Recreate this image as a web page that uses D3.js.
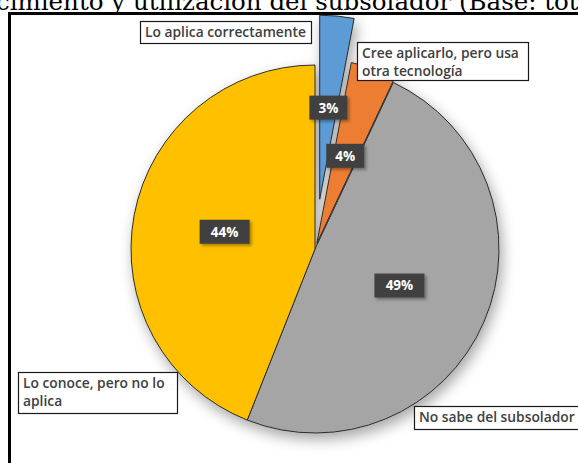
<!DOCTYPE html>
<html>
<head>
<meta charset="utf-8">
<script src="https://cdn.jsdelivr.net/npm/d3@7/dist/d3.min.js"></script>
<style>
  body { margin: 0; background: #fff; }
  svg { display: block; }
</style>
</head>
<body>
<div id="chart"></div>
<script>
// data
const categories = ["Lo aplica correctamente", "Cree aplicarlo, pero usa otra tecnología", "No sabe del subsolador", "Lo conoce, pero no lo aplica"];
const values = [3, 4, 49, 44];
const pctLabels = ["3%", "4%", "49%", "44%"];
const calloutLines = [["Lo aplica correctamente"], ["Cree aplicarlo, pero usa", "otra tecnología"], ["No sabe del subsolador"], ["Lo conoce, pero no lo", "aplica"]];

// styling
const colors = ["#5B9BD5", "#ED7D31", "#A5A5A5", "#FFC000"];
const explode = [50, 6, 0, 0];
// callout boxes: x, y, width, height
const calloutBoxes = [[140, 21, 171, 22], [357, 42, 171, 38], [414, 406, 170, 23], [18, 372, 159, 41]];

const width = 578, height = 463;
const cx = 315, cy = 249, radius = 184;

const svg = d3.select("#chart").append("svg")
  .attr("width", width)
  .attr("height", height);

const defs = svg.append("defs");
const shadow = defs.append("filter").attr("id", "pieShadow")
  .attr("x", "-20%").attr("y", "-20%").attr("width", "140%").attr("height", "140%");
shadow.append("feDropShadow")
  .attr("dx", 3).attr("dy", 6).attr("stdDeviation", 7)
  .attr("flood-color", "#000").attr("flood-opacity", 0.35);
const boxShadow = defs.append("filter").attr("id", "boxShadow")
  .attr("x", "-30%").attr("y", "-30%").attr("width", "160%").attr("height", "160%");
boxShadow.append("feDropShadow")
  .attr("dx", 2).attr("dy", 2).attr("stdDeviation", 1.5)
  .attr("flood-color", "#000").attr("flood-opacity", 0.35);

// title, cut off by the top of the picture
svg.append("text")
  .attr("x", -4)
  .attr("y", 10)
  .attr("font-family", "DejaVu Serif, serif")
  .attr("font-size", 24.5)
  .attr("fill", "#000")
  .text("cimiento y utilización del subsolador (Base: total");

// outer frame (only left and top edges inside the picture)
svg.append("rect")
  .attr("x", 9.5).attr("y", 13.5)
  .attr("width", 700).attr("height", 600)
  .attr("fill", "none")
  .attr("stroke", "#000")
  .attr("stroke-width", 3);

const pie = d3.pie().sort(null).value(d => d)(values);
const arc = d3.arc().innerRadius(0).outerRadius(radius);

function offset(d, i) {
  const mid = (d.startAngle + d.endAngle) / 2;
  return [Math.sin(mid) * explode[i], -Math.cos(mid) * explode[i]];
}

const pieG = svg.append("g")
  .attr("transform", `translate(${cx},${cy})`)
  .attr("filter", "url(#pieShadow)");

pieG.selectAll("path")
  .data(pie)
  .enter()
  .append("path")
  .attr("transform", (d, i) => `translate(${offset(d, i)})`)
  .attr("d", arc)
  .attr("fill", (d, i) => colors[i])
  .attr("stroke", "#2b2b2b")
  .attr("stroke-width", 1)
  .attr("stroke-linejoin", "round");

// percentage labels in dark boxes
const labelG = svg.append("g").attr("transform", `translate(${cx},${cy})`);
const lab = labelG.selectAll("g.lab")
  .data(pie)
  .enter()
  .append("g")
  .attr("class", "lab")
  .attr("transform", (d, i) => {
    const c = arc.centroid(d);
    const o = offset(d, i);
    return `translate(${c[0] + o[0]},${c[1] + o[1]})`;
  });

lab.append("rect")
  .attr("x", (d, i) => -(pctLabels[i].length * 6 + 7))
  .attr("y", -12)
  .attr("width", (d, i) => pctLabels[i].length * 12 + 14)
  .attr("height", 24)
  .attr("fill", "#404040")
  .attr("filter", "url(#boxShadow)");

lab.append("text")
  .attr("text-anchor", "middle")
  .attr("dy", "0.36em")
  .attr("font-family", "'Open Sans', Lato, sans-serif")
  .attr("font-weight", "bold")
  .attr("font-size", 13.5)
  .attr("fill", "#fff")
  .text((d, i) => pctLabels[i]);

// category callouts
const call = svg.selectAll("g.callout")
  .data(categories)
  .enter()
  .append("g")
  .attr("class", "callout");

call.append("rect")
  .attr("x", (d, i) => calloutBoxes[i][0] + 0.5)
  .attr("y", (d, i) => calloutBoxes[i][1] + 0.5)
  .attr("width", (d, i) => calloutBoxes[i][2])
  .attr("height", (d, i) => calloutBoxes[i][3])
  .attr("fill", "#fff")
  .attr("stroke", "#1a1a1a")
  .attr("stroke-width", 1.2);

call.each(function(d, i) {
  const g = d3.select(this);
  calloutLines[i].forEach((line, k) => {
    g.append("text")
      .attr("x", calloutBoxes[i][0] + 5)
      .attr("y", calloutBoxes[i][1] + 16 + k * 18)
      .attr("font-family", "'Open Sans', Lato, sans-serif")
      .attr("font-weight", 600)
      .attr("font-size", 13.8)
      .attr("fill", "#404040")
      .text(line);
  });
});
</script>
</body>
</html>
